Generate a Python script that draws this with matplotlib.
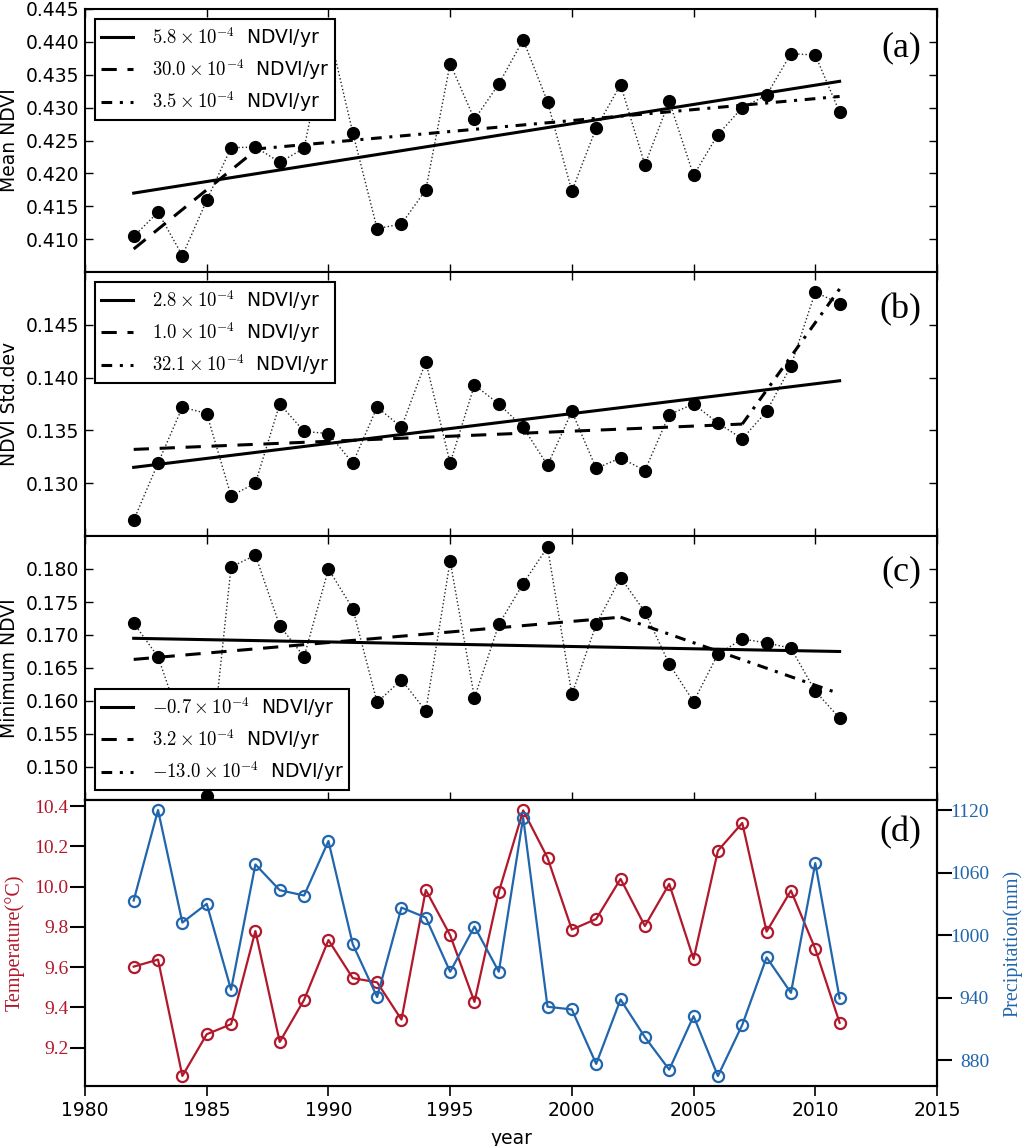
import matplotlib
matplotlib.use('Agg')
import matplotlib.pyplot as plt

plt.rcParams['mathtext.fontset'] = 'cm'
plt.rcParams['font.family'] = ['DejaVu Sans']

years = list(range(1982, 2012))

mean_ndvi = [0.4104, 0.4141, 0.4075, 0.4159, 0.4239, 0.4240, 0.4217, 0.4238, 0.4420, 0.4262,
             0.4116, 0.4123, 0.4175, 0.4367, 0.4282, 0.4336, 0.4403, 0.4309, 0.4173, 0.4269,
             0.4335, 0.4213, 0.4310, 0.4197, 0.4259, 0.4300, 0.4319, 0.4382, 0.4380, 0.4293]

std_ndvi = [0.1265, 0.1319, 0.1372, 0.1366, 0.1288, 0.1300, 0.1375, 0.1349, 0.1347, 0.1319,
            0.1372, 0.1353, 0.1415, 0.1319, 0.1393, 0.1375, 0.1353, 0.1317, 0.1368, 0.1314,
            0.1324, 0.1312, 0.1365, 0.1375, 0.1357, 0.1342, 0.1368, 0.1411, 0.1481, 0.1470]

min_ndvi = [0.1718, 0.1667, 0.1560, 0.1456, 0.1803, 0.1821, 0.1714, 0.1667, 0.1800, 0.1740,
            0.1598, 0.1632, 0.1585, 0.1812, 0.1605, 0.1716, 0.1778, 0.1833, 0.1610, 0.1716,
            0.1787, 0.1735, 0.1656, 0.1599, 0.1671, 0.1694, 0.1688, 0.1680, 0.1615, 0.1574]

temperature = [9.602, 9.637, 9.059, 9.266, 9.316, 9.779, 9.228, 9.437, 9.734, 9.545,
               9.524, 9.339, 9.983, 9.758, 9.427, 9.973, 10.378, 10.143, 9.786, 9.839,
               10.038, 9.804, 10.013, 9.640, 10.178, 10.316, 9.776, 9.980, 9.690, 9.323]

precipitation = [1033.4, 1120.3, 1012.2, 1030.2, 947.7, 1068.0, 1043.3, 1038.2, 1090.5, 991.4,
                 940.7, 1026.6, 1017.0, 965.0, 1008.4, 965.0, 1113.0, 931.4, 928.8, 876.5,
                 938.4, 902.2, 871.0, 922.4, 864.9, 914.0, 978.8, 944.8, 1069.3, 939.4]

# trend segments (start/end year, start/end value)
a_solid_x, a_solid_y = [1982, 2011], [0.4170, 0.4340]
a_dash_x, a_dash_y = [1982, 1987], [0.4085, 0.4235]
a_dd_x, a_dd_y = [1987, 2011], [0.4237, 0.4317]

b_solid_x, b_solid_y = [1982, 2011], [0.1315, 0.1397]
b_dash_x, b_dash_y = [1982, 2007], [0.1332, 0.1356]
b_dd_x, b_dd_y = [2007, 2011], [0.1356, 0.1484]

c_solid_x, c_solid_y = [1982, 2011], [0.1695, 0.1675]
c_dash_x, c_dash_y = [1982, 2002], [0.1663, 0.1727]
c_dd_x, c_dd_y = [2002, 2011], [0.1727, 0.1611]

a_labels = [r'$5.8\times10^{-4}$  NDVI/yr', r'$30.0\times10^{-4}$  NDVI/yr', r'$3.5\times10^{-4}$  NDVI/yr']
b_labels = [r'$2.8\times10^{-4}$  NDVI/yr', r'$1.0\times10^{-4}$  NDVI/yr', r'$32.1\times10^{-4}$  NDVI/yr']
c_labels = [r'$-0.7\times10^{-4}$  NDVI/yr', r'$3.2\times10^{-4}$  NDVI/yr', r'$-13.0\times10^{-4}$  NDVI/yr']

x_ticks = [1980, 1985, 1990, 1995, 2000, 2005, 2010, 2015]
a_yticks = [0.410, 0.415, 0.420, 0.425, 0.430, 0.435, 0.440, 0.445]
b_yticks = [0.130, 0.135, 0.140, 0.145]
c_yticks = [0.150, 0.155, 0.160, 0.165, 0.170, 0.175, 0.180]
t_yticks = [9.2, 9.4, 9.6, 9.8, 10.0, 10.2, 10.4]
p_yticks = [880, 940, 1000, 1060, 1120]

RED = '#B2182B'
BLUE = '#2166AC'
SERIF = ['Liberation Serif', 'DejaVu Serif']

W, H = 1024, 1146
fig = plt.figure(figsize=(W / 100, H / 100), dpi=100)
left, right = 85 / W, 937 / W


def make_ax(top_px, bot_px):
    return fig.add_axes([left, 1 - bot_px / H, right - left, (bot_px - top_px) / H])


ax_a = make_ax(9, 272)
ax_b = make_ax(272, 536)
ax_c = make_ax(536, 800)
ax_d = make_ax(800, 1086)

panels = [
    (ax_a, mean_ndvi, (a_solid_x, a_solid_y), (a_dash_x, a_dash_y), (a_dd_x, a_dd_y), a_labels,
     (0.405, 0.445), a_yticks, 'Mean NDVI', '(a)', 0.852, 'upper left', '%.3f'),
    (ax_b, std_ndvi, (b_solid_x, b_solid_y), (b_dash_x, b_dash_y), (b_dd_x, b_dd_y), b_labels,
     (0.125, 0.150), b_yticks, 'NDVI Std.dev', '(b)', 0.856, 'upper left', '%.3f'),
    (ax_c, min_ndvi, (c_solid_x, c_solid_y), (c_dash_x, c_dash_y), (c_dd_x, c_dd_y), c_labels,
     (0.145, 0.185), c_yticks, 'Minimum NDVI', '(c)', 0.865, 'lower left', '%.3f'),
]

for ax, vals, sol, dsh, ddt, labels, ylim, yt, ylab, tag, tag_y, loc, fmt in panels:
    ax.plot(years, vals, linestyle=':', color='0.15', lw=1.0, marker='o', ms=8.5,
            mfc='k', mec='k', zorder=3)
    l1, = ax.plot(sol[0], sol[1], '-', color='k', lw=2.2, zorder=4)
    l2, = ax.plot(dsh[0], dsh[1], color='k', lw=2.2, dashes=(5, 3.5), zorder=4)
    l3, = ax.plot(ddt[0], ddt[1], color='k', lw=2.2, dashes=(3.5, 2.5, 1, 2.5), zorder=4)
    ax.set_xlim(1980, 2015)
    ax.set_xticks(x_ticks)
    ax.tick_params(axis='x', labelbottom=False)
    ax.set_ylim(*ylim)
    ax.set_yticks(yt)
    ax.set_yticklabels([fmt % v for v in yt])
    ax.tick_params(direction='in', top=True, right=True, length=6, width=1,
                   labelsize=13.5, pad=4)
    ax.set_ylabel(ylab, fontsize=13.5, labelpad=5)
    for s in ax.spines.values():
        s.set_linewidth(1.5)
    leg = ax.legend([l1, l2, l3], labels, loc=loc, fontsize=13.5, handlelength=1.7,
                    handletextpad=1.0, labelspacing=0.38, borderpad=0.3,
                    fancybox=False, framealpha=1, borderaxespad=0.55)
    leg.get_frame().set_edgecolor('k')
    leg.get_frame().set_linewidth(1.5)
    leg.set_zorder(6)
    ax.text(0.982, tag_y, tag, transform=ax.transAxes, ha='right', va='center',
            fontsize=26, family=SERIF)

# panel (d)
ax_d.plot(years, temperature, '-', color=RED, lw=1.6, marker='o', ms=8, mfc='none',
          mec=RED, mew=1.6)
ax_d.set_xlim(1980, 2015)
ax_d.set_xticks(x_ticks)
ax_d.set_ylim(9.009, 10.43)
ax_d.set_yticks(t_yticks)
ax_d.set_yticklabels(['%.1f' % v for v in t_yticks])
ax_d.tick_params(axis='x', direction='out', length=7, width=1.2, labelsize=13.5, pad=4,
                 top=False)
ax_d.tick_params(axis='y', direction='out', length=10.5, width=1.5, labelsize=14,
                 labelcolor=RED, pad=1.5)
for lab in ax_d.get_yticklabels():
    lab.set_family(SERIF)
ax_d.set_ylabel('Temperature(°C)', color=RED, fontsize=14.5, family=SERIF, labelpad=7)
ax_d.set_xlabel('year', fontsize=13.5, labelpad=6)
for s in ax_d.spines.values():
    s.set_linewidth(1.5)

ax_p = ax_d.twinx()
ax_p.plot(years, precipitation, '-', color=BLUE, lw=1.6, marker='o', ms=8, mfc='none',
          mec=BLUE, mew=1.6)
ax_p.set_ylim(855.3, 1129.9)
ax_p.set_yticks(p_yticks)
ax_p.set_yticklabels(['%d' % v for v in p_yticks])
ax_p.tick_params(axis='y', direction='out', length=10.5, width=1.5, labelsize=14,
                 labelcolor=BLUE, pad=27)
for lab in ax_p.get_yticklabels():
    lab.set_family(SERIF)
    lab.set_ha('right')
ax_p.set_ylabel('Precipitation(mm)', color=BLUE, fontsize=14.5, family=SERIF, labelpad=10)
for s in ax_p.spines.values():
    s.set_linewidth(1.5)
ax_p.text(0.982, 0.885, '(d)', transform=ax_p.transAxes, ha='right', va='center',
          fontsize=26, family=SERIF)

fig.savefig('out.png', dpi=100)
